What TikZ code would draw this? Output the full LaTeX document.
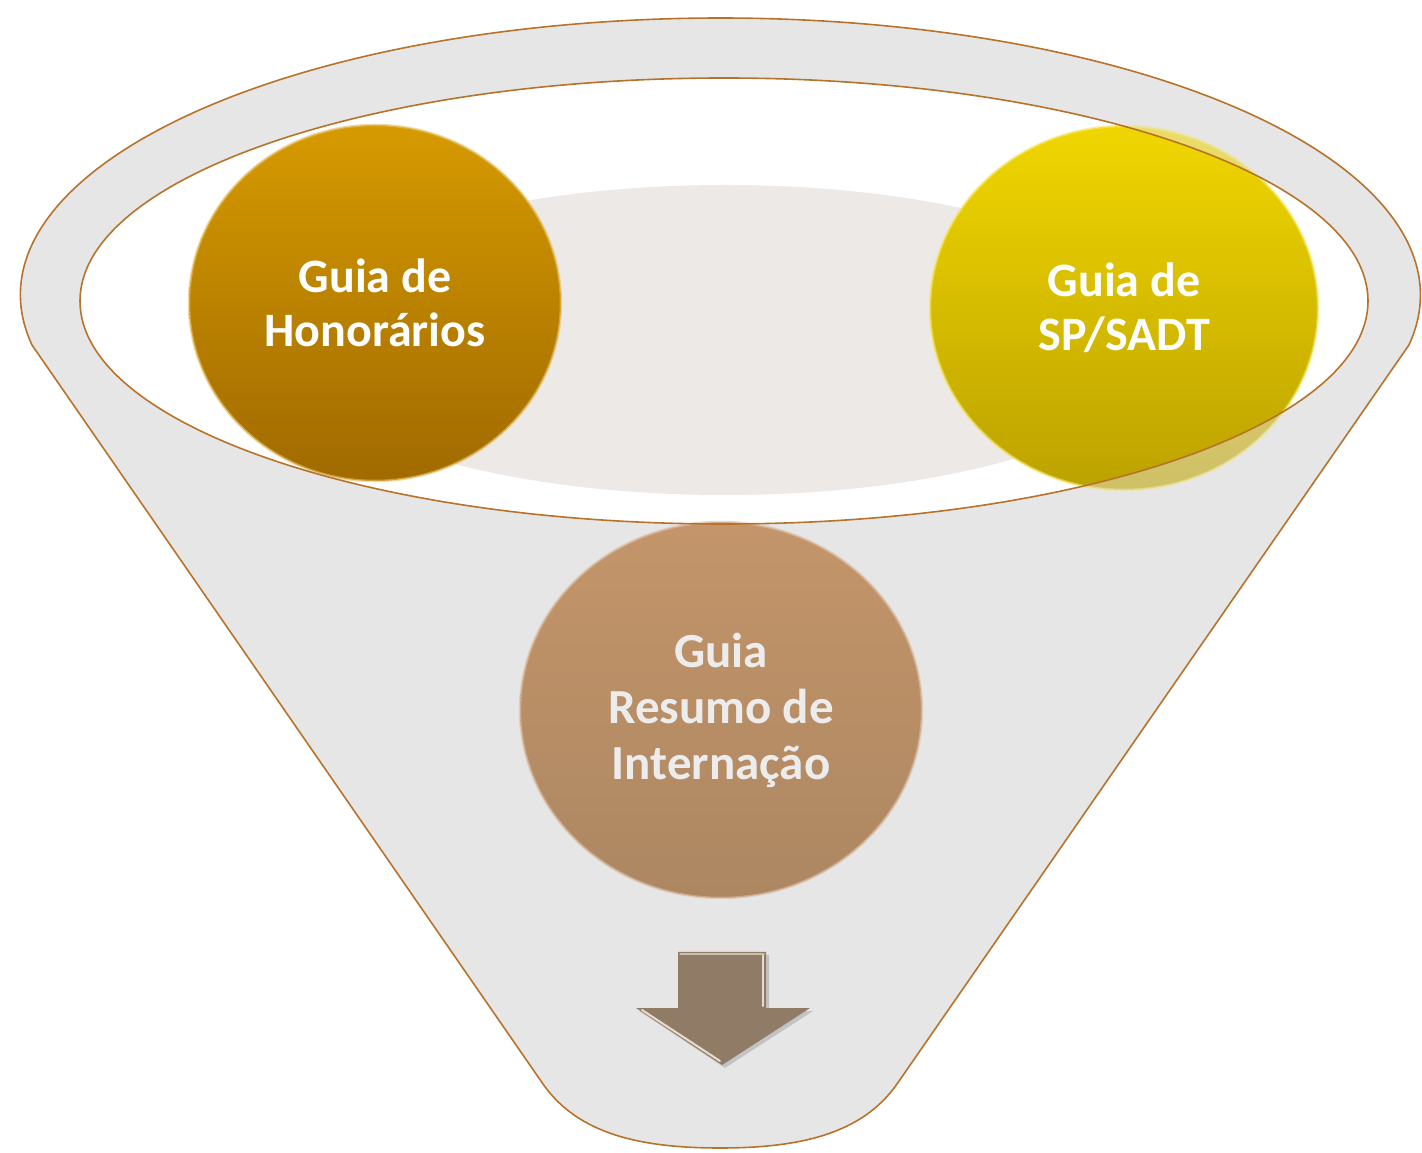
\documentclass[tikz,border=0pt]{standalone}
\usepackage{fontspec}
\setmainfont{Carlito}
\usetikzlibrary{shapes.geometric}
\definecolor{rim}{HTML}{B8732A}
\definecolor{funnelgray}{HTML}{E6E6E6}
\definecolor{beige}{HTML}{EDE9E6}
\definecolor{honA}{HTML}{D69A00}
\definecolor{honB}{HTML}{A06A00}
\definecolor{sadtA}{HTML}{F0D600}
\definecolor{sadtB}{HTML}{BCA200}
\definecolor{resA}{HTML}{C4956A}
\definecolor{resB}{HTML}{AC8762}
\definecolor{arrowc}{HTML}{8F7B66}
\definecolor{arrowhi}{HTML}{E8DCCB}
\definecolor{reslabel}{HTML}{ECECEC}
\tikzset{
  ball/.style={ellipse, inner sep=0pt, align=center, line width=2.5pt},
  balltext/.style={font=\bfseries\fontsize{48}{54}\selectfont, text=white},
  rimline/.style={draw=rim, line width=1.6pt}
}
\begin{document}
\begin{tikzpicture}[x=1pt,y=1pt]
\useasboundingbox (0,0) rectangle (1422,1152);
% funnel body
\path[fill=funnelgray, rimline]
  (32,807) arc[start angle=190.4, end angle=-10.4, x radius=700, y radius=277]
  -- (897,68) .. controls (862,18) and (800,4) .. (720,4)
  .. controls (640,4) and (578,18) .. (543,68)
  -- cycle;
% opening
\fill[white] (724,851) ellipse[x radius=644, y radius=223];
\fill[beige] (725,812) ellipse[x radius=450, y radius=155];
% balls
\node[ball, balltext, top color=honA, bottom color=honB, draw=honA!60!white, draw opacity=0.6,
      minimum width=372pt, minimum height=356pt] (hon) at (375,849) {Guia de\\Honorários};
\node[ball, balltext, top color=sadtA, bottom color=sadtB, draw=sadtA!60!white, draw opacity=0.6,
      minimum width=388pt, minimum height=364pt] (sadt) at (1124,844) {Guia de\\SP/SADT};
\node[ball, balltext, font=\bfseries\fontsize{49}{56}\selectfont, text=reslabel,
      top color=resA, bottom color=resB, draw=resA!60!white, draw opacity=0.6,
      minimum width=402pt, minimum height=376pt] (res) at (721,442) {Guia\\Resumo de\\Internação};
% rim veil over the yellow ball
\begin{scope}
  \clip (sadt.center) ellipse[x radius=195, y radius=183];
  \fill[funnelgray, fill opacity=0.45, even odd rule]
    (0,0) rectangle (1422,1152) (724,851) ellipse[x radius=644, y radius=223];
\end{scope}
\draw[rimline] (724,851) ellipse[x radius=644, y radius=223];
% arrow
\fill[black, opacity=0.15] (681,197) -- (769,197) -- (769,141) -- (813,141) -- (725,84) -- (639,141) -- (681,141) -- cycle;
\fill[arrowc] (678,200) -- (766,200) -- (766,144) -- (810,144) -- (722,87) -- (636,144) -- (678,144) -- cycle;
\draw[arrowhi, line width=2pt, line cap=round] (642,142) -- (720,91);
\draw[arrowhi, line width=2pt, line cap=round] (763,198) -- (763,146);
\draw[arrowhi!70!arrowc, line width=1.5pt, line cap=round] (680,198) -- (764,198);
\end{tikzpicture}
\end{document}
